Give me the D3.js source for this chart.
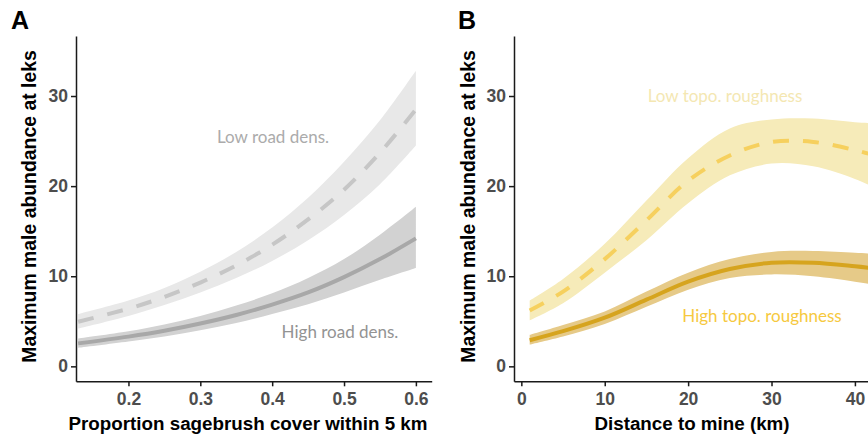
<!DOCTYPE html>
<html>
<head>
<meta charset="utf-8">
<script src="https://cdn.jsdelivr.net/npm/d3@7"></script>
<style>
  body { margin: 0; background: #fff; }
  .tick text { font-family: "Liberation Sans", Arial, sans-serif; font-weight: bold; fill: #4d4d4d; font-size: 17.5px; }
  .tick line, .domain { stroke: #1a1a1a; stroke-width: 1.5px; }
  .ttl { font-family: "Liberation Sans", Arial, sans-serif; font-weight: bold; fill: #000; }
  .note { font-family: Lato, "Open Sans", sans-serif; }
</style>
</head>
<body>
<div id="chart"></div>
<script>
// panel A: proportion sagebrush cover
let sageX = [0.13, 0.2, 0.25, 0.3, 0.35, 0.4, 0.45, 0.5, 0.55, 0.6];
let lowRoadMean = [4.95, 6.4, 7.7, 9.3, 11.2, 13.5, 16.3, 19.6, 23.7, 28.5];
let lowRoadLo   = [4.2, 5.6, 6.8, 8.2, 9.8, 11.7, 14.0, 16.8, 20.2, 24.5];
let lowRoadHi   = [5.8, 7.3, 8.7, 10.5, 12.7, 15.4, 18.7, 22.7, 27.3, 32.8];
let highRoadMean = [2.55, 3.3, 3.95, 4.75, 5.7, 6.85, 8.2, 9.9, 11.9, 14.2];
let highRoadLo   = [2.05, 2.75, 3.3, 4.0, 4.8, 5.8, 6.9, 8.2, 9.6, 10.9];
let highRoadHi   = [3.1, 3.9, 4.65, 5.6, 6.75, 8.1, 9.8, 11.9, 14.6, 17.7];
let sageTicks = [0.2, 0.3, 0.4, 0.5, 0.6];

// panel B: distance to mine
let mineX = [1, 5, 10, 15, 20, 25, 30, 35, 40, 42];
let lowTopoMean = [6.2, 8.3, 11.9, 16.2, 20.6, 23.4, 24.9, 24.9, 24.0, 23.5];
let lowTopoLo   = [5.1, 7.0, 10.4, 14.0, 18.1, 21.2, 22.5, 22.2, 20.8, 20.0];
let lowTopoHi   = [7.3, 9.7, 13.6, 18.4, 23.1, 26.4, 27.4, 27.5, 27.1, 27.0];
let highTopoMean = [2.9, 3.9, 5.4, 7.4, 9.4, 10.8, 11.5, 11.5, 11.1, 10.9];
let highTopoLo   = [2.4, 3.3, 4.7, 6.6, 8.5, 9.8, 10.2, 10.0, 9.4, 9.1];
let highTopoHi   = [3.5, 4.6, 6.1, 8.3, 10.4, 11.9, 12.7, 12.8, 12.6, 12.5];
let mineTicks = [0, 10, 20, 30, 40];

let yTicks = [0, 10, 20, 30];

let W = 868, H = 437;
let svg = d3.select("#chart").append("svg")
    .attr("width", W)
    .attr("height", H);

let y = d3.scaleLinear().domain([-1.66, 36.66]).range([381.3, 36]);

let drawPanel = function(opt) {
    let x = d3.scaleLinear().domain(opt.domain).range(opt.range);
    let g = svg.append("g");
    let clipId = "clip" + opt.letter;
    svg.append("clipPath").attr("id", clipId)
      .append("rect")
        .attr("x", opt.range[0]).attr("y", 36)
        .attr("width", opt.range[1] - opt.range[0]).attr("height", 345);
    let plot = g.append("g").attr("clip-path", "url(#" + clipId + ")");

    let area = d3.area()
        .x(function(d) { return x(d.x); })
        .y0(function(d) { return y(d.lo); })
        .y1(function(d) { return y(d.hi); })
        .curve(d3.curveCatmullRom.alpha(0.5));
    let line = d3.line()
        .x(function(d) { return x(d.x); })
        .y(function(d) { return y(d.m); })
        .curve(d3.curveCatmullRom.alpha(0.5));

    opt.series.forEach(function(s) {
        let rows = opt.xs.map(function(v, i) {
            return {x: v, m: s.mean[i], lo: s.lo[i], hi: s.hi[i]};
        });
        plot.append("path").datum(rows)
            .attr("d", area)
            .attr("fill", s.band);
        s.rows = rows;
    });
    opt.series.forEach(function(s) {
        plot.append("path").datum(s.rows)
            .attr("d", line)
            .attr("fill", "none")
            .attr("stroke", s.color)
            .attr("stroke-width", 4)
            .attr("stroke-dasharray", s.dash ? "16,14" : null);
    });

    g.append("g")
        .attr("transform", "translate(0,381.3)")
        .call(d3.axisBottom(x).tickValues(opt.ticks).tickSize(5).tickPadding(6).tickSizeOuter(0)
              .tickFormat(opt.fmt));
    g.append("g")
        .attr("transform", "translate(" + opt.range[0] + ",0)")
        .call(d3.axisLeft(y).tickValues(yTicks).tickSize(5).tickPadding(3).tickSizeOuter(0));

    // axis titles
    g.append("text").attr("class", "ttl")
        .attr("x", opt.xTitleX).attr("y", 430)
        .attr("text-anchor", "middle")
        .attr("font-size", 18.8)
        .text(opt.xTitle);
    g.append("text").attr("class", "ttl")
        .attr("transform", "translate(" + opt.yTitleX + ",206.5) rotate(-90)")
        .attr("text-anchor", "middle")
        .attr("font-size", 19.4)
        .text("Maximum male abundance at leks");
    g.append("text").attr("class", "ttl")
        .attr("x", opt.letterX).attr("y", 28.5)
        .attr("font-size", 25)
        .text(opt.letter);

    opt.labels.forEach(function(l) {
        g.append("text").attr("class", "note")
            .attr("x", l.x).attr("y", l.y)
            .attr("text-anchor", "middle")
            .attr("font-size", 17)
            .attr("fill", l.color)
            .text(l.text);
    });
};

drawPanel({
    letter: "A", letterX: 11,
    domain: [0.127, 0.622], range: [76, 431.7],
    xs: sageX, ticks: sageTicks, fmt: d3.format(".1f"),
    xTitle: "Proportion sagebrush cover within 5 km", xTitleX: 248,
    yTitleX: 36,
    series: [
        {mean: lowRoadMean, lo: lowRoadLo, hi: lowRoadHi, band: "#e8e8e8", color: "#c6c6c6", dash: true},
        {mean: highRoadMean, lo: highRoadLo, hi: highRoadHi, band: "#d2d2d2", color: "#a8a8a8", dash: false}
    ],
    labels: [
        {text: "Low road dens.", x: 273, y: 143, color: "#ababab"},
        {text: "High road dens.", x: 340, y: 338, color: "#939393"}
    ]
});

drawPanel({
    letter: "B", letterX: 458,
    domain: [-0.88, 41.57], range: [514, 868],
    xs: mineX, ticks: mineTicks, fmt: d3.format("d"),
    xTitle: "Distance to mine (km)", xTitleX: 692,
    yTitleX: 475,
    series: [
        {mean: lowTopoMean, lo: lowTopoLo, hi: lowTopoHi, band: "#f6ebb9", color: "#f6d05e", dash: true},
        {mean: highTopoMean, lo: highTopoLo, hi: highTopoHi, band: "#e6ca88", color: "#d6a41e", dash: false}
    ],
    labels: [
        {text: "Low topo. roughness", x: 725, y: 102, color: "#f4e7b2"},
        {text: "High topo. roughness", x: 762, y: 322, color: "#f6c93f"}
    ]
});
</script>
</body>
</html>
